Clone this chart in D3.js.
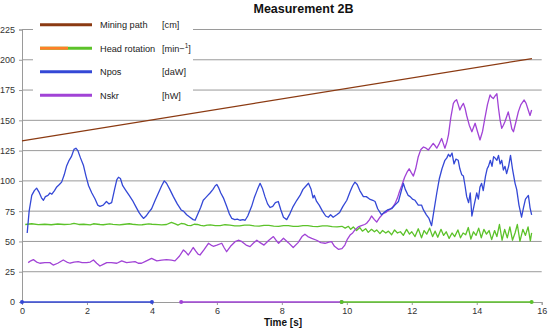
<!DOCTYPE html>
<html><head><meta charset="utf-8">
<script src="https://cdn.jsdelivr.net/npm/d3@7"></script>
<style>body{margin:0;background:#fff}svg{display:block}text{font-family:Arial,"Liberation Sans",sans-serif}</style>
</head><body><svg id="c" width="550" height="332"></svg>
<script>
const title = "Measurement 2B";
const xLabel = "Time [s]";
const xTicks = [0,2,4,6,8,10,12,14,16];
const yTicks = [0,25,50,75,100,125,150,175,200,225];
const legendNames = ["Mining path","Head rotation","Npos","Nskr"];
const legendUnits = ["[cm]","[min−","[daW]","[hW]"];
const colors = ["#8b3a12","#5cc22a","#3448d6","#a143d6"];

const miningPath = [[0,133],[15.7,201]];
const headRotation = [[0.1,64],[0.3,64.6],[0.5,63.9],[0.7,64.2],[0.9,63.8],[1.1,64.4],[1.3,64],[1.5,64.3],[1.6,65],[1.75,64],[1.9,64.2],[2.1,63.7],[2.2,64.6],[2.4,64],[2.5,63.8],[2.7,64.5],[2.8,64.1],[3.0,63.7],[3.1,64],[3.3,64.6],[3.4,64.2],[3.6,63.6],[3.7,63.8],[3.9,64.5],[4.0,64.2],[4.2,63.9],[4.3,63.6],[4.45,64],[4.6,65.8],[4.72,64.5],[4.8,63.5],[4.9,64.8],[5.0,64.5],[5.1,63.2],[5.2,63],[5.3,64.2],[5.4,64],[5.5,63.2],[5.6,62.8],[5.7,63.5],[5.8,63.6],[5.95,63],[6.1,63],[6.25,63.8],[6.4,63.5],[6.55,62.9],[6.7,62.8],[6.85,63.5],[7.0,63.4],[7.15,62.8],[7.3,62.6],[7.45,63.3],[7.6,63.2],[7.75,62.7],[7.9,62.5],[8.05,63.1],[8.2,63],[8.35,62.5],[8.5,62.4],[8.65,63],[8.8,63],[8.95,62.4],[9.1,62.3],[9.25,62.9],[9.4,62.8],[9.55,62.2],[9.7,62],[9.85,62.5],[9.95,61],[10.05,62.5],[10.12,60],[10.2,62],[10.3,59],[10.4,61.5],[10.48,58.5],[10.58,60.5],[10.66,57.5],[10.76,60],[10.85,58],[10.92,59.5],[11.02,56.5],[11.1,59],[11.2,57],[11.28,58.5],[11.38,55.5],[11.47,59.5],[11.56,57],[11.65,58],[11.74,55],[11.84,60],[11.93,56],[12.0,58],[12.1,54],[12.2,60.5],[12.3,53],[12.38,59],[12.46,56],[12.55,61],[12.64,54],[12.72,58.5],[12.8,53.5],[12.9,60],[12.98,55],[13.06,58],[13.15,52.5],[13.24,57],[13.32,54],[13.42,59.5],[13.5,53],[13.58,57],[13.66,55.5],[13.74,61.5],[13.82,52],[13.9,58],[13.98,55],[14.06,61],[14.14,53],[14.22,60],[14.3,56],[14.38,59],[14.46,51.5],[14.55,59],[14.62,54],[14.7,64],[14.78,51],[14.86,60],[14.94,53],[15.02,62],[15.1,51],[15.18,57],[15.25,64],[15.33,50],[15.42,60],[15.5,55],[15.58,62],[15.65,50.5],[15.69,57]];
const npos = [[0.16,57],[0.22,75],[0.3,88],[0.38,92],[0.45,94],[0.52,91],[0.6,86],[0.66,84],[0.72,87],[0.8,88],[0.86,90],[0.92,89],[1.0,92],[1.07,95],[1.15,97],[1.22,99],[1.3,105],[1.37,112],[1.45,117],[1.52,120],[1.6,126],[1.66,127],[1.72,125],[1.8,119],[1.89,113],[1.97,104],[2.05,96],[2.15,90],[2.25,85],[2.33,80],[2.4,79],[2.5,80],[2.6,83],[2.68,81],[2.76,82],[2.85,93],[2.92,101],[2.97,103],[3.03,102],[3.1,96],[3.2,92],[3.3,88],[3.4,84],[3.5,79],[3.6,74],[3.68,71],[3.74,69],[3.82,71],[3.9,74],[3.99,77],[4.1,84],[4.2,90],[4.3,96],[4.38,100],[4.45,98],[4.55,93],[4.66,87],[4.78,81],[4.9,76],[4.97,75],[5.07,72],[5.17,70],[5.27,68],[5.33,67.5],[5.42,73],[5.5,78],[5.58,84],[5.65,86],[5.72,88],[5.79,90],[5.88,93],[5.95,96],[6.0,97],[6.06,94],[6.12,90],[6.2,86],[6.3,79],[6.38,73],[6.46,69],[6.55,68],[6.63,68.5],[6.71,67.5],[6.8,68],[6.87,67.5],[6.95,71],[7.07,79],[7.15,86],[7.25,93],[7.33,98],[7.4,94],[7.48,87],[7.56,81],[7.64,78],[7.72,79],[7.8,82],[7.89,83],[7.97,76],[8.05,70],[8.15,68],[8.25,73],[8.35,79],[8.46,84],[8.56,88],[8.65,93],[8.75,96],[8.82,98],[8.9,93],[8.96,86],[9.0,88],[9.07,83],[9.15,80],[9.25,75],[9.35,71],[9.43,70],[9.5,72],[9.58,70],[9.69,72],[9.78,74],[9.88,79],[10.0,84],[10.1,91],[10.18,96],[10.25,99],[10.32,97],[10.4,92],[10.51,87],[10.6,87],[10.7,85],[10.8,84],[10.87,83],[10.95,77],[11.07,72],[11.15,74],[11.25,76],[11.38,77],[11.48,80],[11.59,83],[11.66,90],[11.74,98],[11.8,93],[11.89,88],[11.95,87],[12.02,85],[12.1,84],[12.2,80],[12.3,80],[12.36,76],[12.45,72],[12.53,69],[12.61,63],[12.68,75],[12.77,90],[12.85,102],[12.93,110],[13.02,117],[13.08,119],[13.13,122],[13.18,120],[13.24,123],[13.3,114],[13.36,118],[13.43,117],[13.48,110],[13.54,105],[13.59,104],[13.64,96],[13.69,87],[13.75,82],[13.8,90],[13.85,71],[13.92,80],[14.0,90],[14.05,85],[14.1,95],[14.15,98],[14.2,92],[14.27,104],[14.32,110],[14.36,112],[14.42,117],[14.47,112],[14.52,120],[14.56,119],[14.62,117],[14.67,121],[14.72,114],[14.77,117],[14.82,109],[14.87,112],[14.92,106],[14.98,112],[15.04,121],[15.1,110],[15.18,98],[15.23,93],[15.3,80],[15.38,70],[15.44,78],[15.5,85],[15.59,88],[15.64,78],[15.69,72]];
const nskr = [[0.19,32.5],[0.27,34],[0.35,35],[0.45,33],[0.55,32],[0.7,32.5],[0.86,32.5],[0.96,30.5],[1.1,32],[1.27,34.7],[1.38,33],[1.48,32],[1.6,33],[1.73,33.3],[1.85,32.5],[1.99,32.5],[2.1,33],[2.2,34.7],[2.3,32],[2.4,29.7],[2.5,31],[2.61,32.5],[2.75,32.5],[2.92,32],[3.07,34],[3.22,32.5],[3.35,33],[3.48,33.3],[3.58,32],[3.68,32],[3.8,33.5],[3.99,36],[4.07,35],[4.15,34],[4.3,34.5],[4.45,35],[4.6,34.5],[4.71,34],[4.85,38],[4.97,43],[5.05,41],[5.12,38.8],[5.2,42],[5.27,45],[5.35,42],[5.42,39.5],[5.48,38.8],[5.6,43],[5.74,48.5],[5.82,47],[5.89,46],[6.0,47],[6.15,48.5],[6.22,45],[6.3,41.5],[6.42,46],[6.56,49.8],[6.66,51],[6.76,50],[6.9,47],[7.02,45.7],[7.12,48.5],[7.23,51],[7.33,49],[7.45,47],[7.6,51],[7.74,54],[7.82,51],[7.9,48.5],[8.05,52.6],[8.2,49],[8.35,45],[8.5,49],[8.62,54],[8.71,56],[8.8,54],[8.92,52.6],[9.07,51],[9.2,49],[9.33,48.5],[9.45,49.5],[9.53,49.8],[9.62,46],[9.74,43.5],[9.85,44],[9.94,47],[10.02,52],[10.1,55.3],[10.18,57],[10.25,59.5],[10.35,62],[10.45,63],[10.55,64],[10.61,65],[10.7,68],[10.76,71],[10.85,68],[10.92,66],[11.02,70],[11.12,73],[11.2,74],[11.3,76],[11.4,78],[11.48,81],[11.56,86],[11.62,91],[11.69,96],[11.78,103],[11.85,107],[11.92,110],[11.98,107],[12.05,104],[12.12,110],[12.2,120],[12.28,126],[12.36,128],[12.44,127],[12.51,125.5],[12.58,128],[12.66,131],[12.72,129],[12.77,127],[12.85,131],[12.92,135],[12.97,131],[13.02,127],[13.08,132],[13.13,138],[13.2,152],[13.28,164],[13.33,166],[13.38,167],[13.43,163],[13.48,158.5],[13.54,162],[13.59,164],[13.64,160],[13.69,154],[13.77,146],[13.85,140.6],[13.9,144],[13.95,147.6],[14.02,141],[14.1,133.8],[14.18,141],[14.25,151.7],[14.33,163],[14.41,171],[14.46,169],[14.51,168],[14.56,170],[14.62,172],[14.67,160],[14.72,150],[14.77,143.4],[14.82,146],[14.87,149],[14.92,153],[14.97,157],[15.03,150],[15.08,143],[15.13,140.6],[15.2,148],[15.28,157],[15.36,163],[15.46,166.8],[15.52,164],[15.58,159],[15.64,154],[15.69,158.5]];
const phaseStart = [0,4.9,9.84];
const phaseEnd = [4.0,9.84,15.69];
const phaseColor = [2,3,1];

const svg = d3.select("#c");
const x = d3.scaleLinear().domain([0,16]).range([22,541.7]);
const y = d3.scaleLinear().domain([0,225]).range([302,29.5]);
const FF = "Arial, 'Liberation Sans', sans-serif";

svg.append("g").selectAll("line").data(yTicks.filter(d=>d>0)).join("line")
  .attr("x1",x(0)).attr("x2",x(16)).attr("y1",d=>y(d)).attr("y2",d=>y(d))
  .attr("stroke","#9a9a9a").attr("stroke-width",1);

const ya = svg.append("g").attr("transform",`translate(${x(0)},0)`)
  .call(d3.axisLeft(y).tickValues(yTicks).tickSize(3).tickPadding(4));
ya.select(".domain").attr("stroke","#9a9a9a");
ya.selectAll(".tick line").attr("stroke","#9a9a9a");
ya.selectAll("text").attr("font-size",9).attr("fill","#333").attr("font-family",FF);

const xa = svg.append("g").attr("transform",`translate(0,${y(0)})`)
  .call(d3.axisBottom(x).tickValues(xTicks).tickSize(3).tickPadding(3));
xa.select(".domain").attr("stroke","#9a9a9a");
xa.selectAll(".tick line").attr("stroke","#9a9a9a");
xa.selectAll("text").attr("font-size",9).attr("fill","#333").attr("font-family",FF);

svg.append("rect").attr("x",33).attr("y",12).attr("width",160).attr("height",93).attr("fill","#fff");

const line = d3.line().x(d=>x(d[0])).y(d=>y(d[1]));
const series = [miningPath, headRotation, npos, nskr];
[0,1,3,2].forEach(i=>{
  svg.append("path").datum(series[i]).attr("d",line).attr("fill","none")
    .attr("stroke",colors[i]).attr("stroke-width",1.3).attr("stroke-linejoin","round");
});

phaseStart.forEach((s,i)=>{
  const c = colors[phaseColor[i]];
  svg.append("line").attr("x1",x(s)).attr("x2",x(phaseEnd[i])).attr("y1",y(0)).attr("y2",y(0))
    .attr("stroke",c).attr("stroke-width",1.6);
  [s,phaseEnd[i]].forEach(t=>svg.append("circle").attr("cx",x(t)).attr("cy",y(0)).attr("r",2).attr("fill",c));
});

const lg = svg.append("g");
legendNames.forEach((n,i)=>{
  const ly = 24.7 + i*23.5;
  lg.append("line").attr("x1",40).attr("x2",92).attr("y1",ly).attr("y2",ly)
    .attr("stroke",colors[i]).attr("stroke-width",3);
  if(i===1) lg.append("line").attr("x1",40).attr("x2",68).attr("y1",ly).attr("y2",ly)
    .attr("stroke","#ff7f27").attr("stroke-width",3);
  lg.append("text").attr("x",100).attr("y",ly+3.3).attr("font-size",9.2).attr("fill","#222").text(n);
  const u = lg.append("text").attr("x",162).attr("y",ly+3.3).attr("font-size",9.2).attr("fill","#222").text(legendUnits[i]);
  if(i===1){
    u.append("tspan").attr("font-size",6.5).attr("dy",-3.5).text("1");
    u.append("tspan").attr("dy",3.5).text("]");
  }
});

svg.append("text").attr("x",303.5).attr("y",12.5).attr("text-anchor","middle")
  .attr("font-size",12.5).attr("font-weight","bold").attr("fill","#111").text(title);
svg.append("text").attr("x",283).attr("y",326).attr("text-anchor","middle")
  .attr("font-size",10).attr("font-weight","bold").attr("fill","#111").text(xLabel);
</script></body></html>
